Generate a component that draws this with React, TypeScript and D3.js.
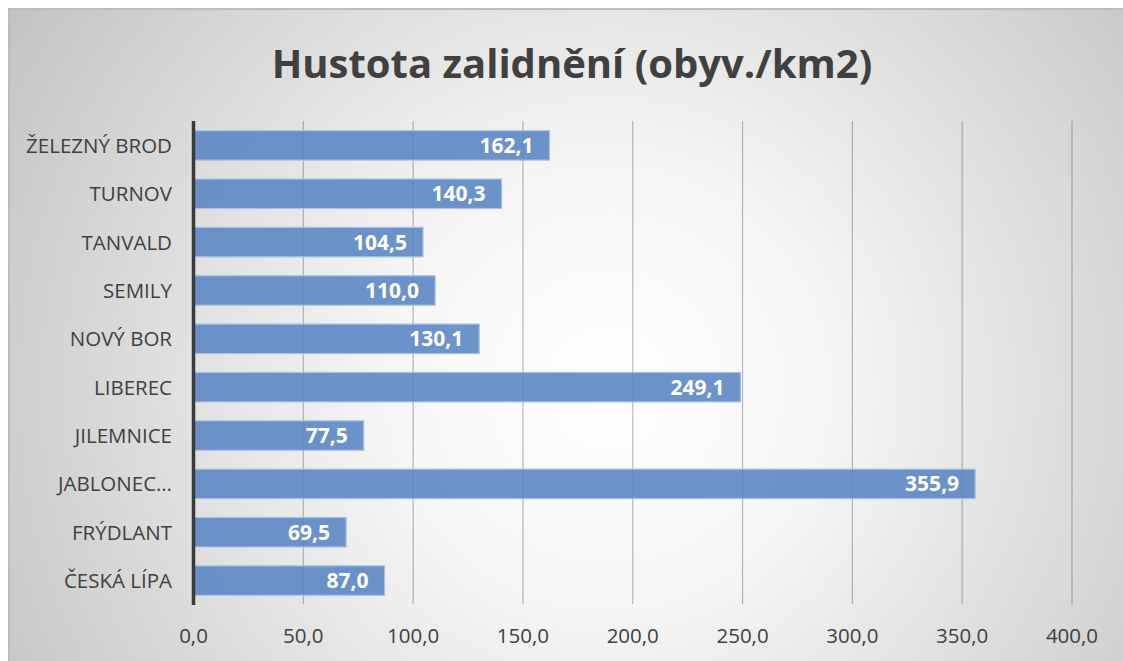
import { useEffect, useRef } from "react";
import * as d3 from "d3";

const categories = [
  "ŽELEZNÝ BROD",
  "TURNOV",
  "TANVALD",
  "SEMILY",
  "NOVÝ BOR",
  "LIBEREC",
  "JILEMNICE",
  "JABLONEC…",
  "FRÝDLANT",
  "ČESKÁ LÍPA",
];
const values = [162.1, 140.3, 104.5, 110.0, 130.1, 249.1, 77.5, 355.9, 69.5, 87.0];
const xTicks = [0, 50, 100, 150, 200, 250, 300, 350, 400];
const title = "Hustota zalidnění (obyv./km2)";

// drawn a bit past the window edge, like the cropped screenshot
const W = 1135;
const H = 673;
const FONT = "'Open Sans', 'Noto Sans', sans-serif";

const cz = d3.formatLocale({ decimal: ",", thousands: " ", grouping: [3], currency: ["", " Kč"] });
const fmt = cz.format(".1f");

export default function App() {
  const svgRef = useRef<SVGSVGElement>(null);

  useEffect(() => {
    document.documentElement.style.overflow = "hidden";
    document.body.style.overflow = "hidden";
    if (!svgRef.current) return;
    const svg = d3.select(svgRef.current);
    svg.selectAll("*").remove();

    const defs = svg.append("defs");
    const grad = defs
      .append("radialGradient")
      .attr("id", "bg")
      .attr("gradientUnits", "userSpaceOnUse")
      .attr("cx", 600)
      .attr("cy", 380)
      .attr("r", 720);
    grad.append("stop").attr("offset", "0%").attr("stop-color", "#ffffff");
    grad.append("stop").attr("offset", "30%").attr("stop-color", "#f6f6f6");
    grad.append("stop").attr("offset", "100%").attr("stop-color", "#c2c2c2");

    svg
      .append("rect")
      .attr("x", 0)
      .attr("y", 0)
      .attr("width", W)
      .attr("height", H)
      .attr("fill", "url(#bg)");
    svg
      .append("path")
      .attr("d", `M1,${H} L1,1 L${W},1`)
      .attr("fill", "none")
      .attr("stroke", "#bdbdbd")
      .attr("stroke-width", 2);

    const x = d3.scaleLinear().domain([0, 400]).range([185.5, 1064]);
    const y = d3.scaleBand().domain(categories).range([113, 597]).paddingInner(0.39).paddingOuter(0.2);

    // title
    svg
      .append("text")
      .attr("x", 564)
      .attr("y", 70)
      .attr("text-anchor", "middle")
      .attr("font-family", FONT)
      .attr("font-weight", "bold")
      .attr("font-size", 40)
      .attr("fill", "#404040")
      .text(title);

    // gridlines
    svg
      .append("g")
      .selectAll("line")
      .data(xTicks.slice(1))
      .join("line")
      .attr("x1", (d) => x(d))
      .attr("x2", (d) => x(d))
      .attr("y1", 113)
      .attr("y2", 596)
      .attr("stroke", "rgba(90,90,90,0.42)")
      .attr("stroke-width", 1.2);

    // bars
    svg
      .append("g")
      .selectAll("rect")
      .data(values)
      .join("rect")
      .attr("x", x(0))
      .attr("y", (_, i) => y(categories[i])!)
      .attr("width", (d) => x(d) - x(0))
      .attr("height", y.bandwidth())
      .attr("fill", "rgba(88,133,196,0.88)")
      .attr("stroke", "#a9c3e3")
      .attr("stroke-width", 1.2);

    // data labels
    svg
      .append("g")
      .selectAll("text")
      .data(values)
      .join("text")
      .attr("x", (d) => x(d) - 16)
      .attr("y", (_, i) => y(categories[i])! + y.bandwidth() / 2 + 7.5)
      .attr("text-anchor", "end")
      .attr("font-family", FONT)
      .attr("font-weight", "bold")
      .attr("font-size", 21)
      .attr("fill", "#ffffff")
      .text((d) => fmt(d));

    // category labels
    svg
      .append("g")
      .selectAll("text")
      .data(categories)
      .join("text")
      .attr("x", 164)
      .attr("y", (d) => y(d)! + y.bandwidth() / 2 + 7.5)
      .attr("text-anchor", "end")
      .attr("font-family", FONT)
      .attr("font-size", 20.5)
      .attr("fill", "#404040")
      .text((d) => d);

    // x tick labels
    svg
      .append("g")
      .selectAll("text")
      .data(xTicks)
      .join("text")
      .attr("x", (d) => x(d))
      .attr("y", 635)
      .attr("text-anchor", "middle")
      .attr("font-family", FONT)
      .attr("font-size", 20.5)
      .attr("fill", "#404040")
      .text((d) => fmt(d));

    // y axis line
    svg
      .append("line")
      .attr("x1", x(0))
      .attr("x2", x(0))
      .attr("y1", 113)
      .attr("y2", 597)
      .attr("stroke", "#3a3a3a")
      .attr("stroke-width", 3.5);
  }, []);

  return (
    <svg
      ref={svgRef}
      width={W}
      height={H}
      style={{ display: "block", position: "absolute", left: 8, top: 8 }}
    />
  );
}
